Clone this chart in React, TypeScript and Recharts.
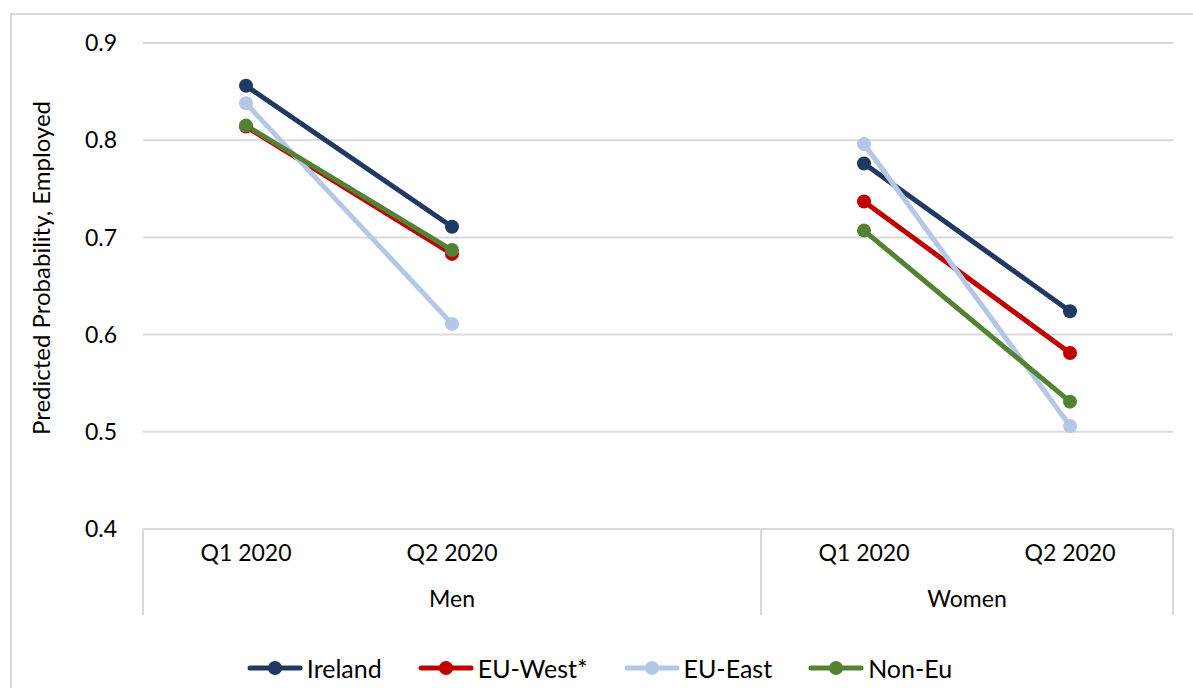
import React from "react";
import { LineChart, Line, XAxis, YAxis, CartesianGrid, Legend } from "recharts";

// categories along the x axis (the middle Men slot is an empty gap, as in the source chart)
const categories = ["men-q1", "men-q2", "men-gap", "women-q1", "women-q2"];
const quarterLabels = ["Q1 2020", "Q2 2020", "", "Q1 2020", "Q2 2020"];
const groupLabels = ["Men", "Men", "Men", "Women", "Women"];

const ireland = [0.856, 0.711, null, 0.776, 0.624];
const euWest = [0.814, 0.683, null, 0.737, 0.581];
const euEast = [0.838, 0.611, null, 0.796, 0.506];
const nonEu = [0.815, 0.687, null, 0.707, 0.531];

const yTicks = [0.4, 0.5, 0.6, 0.7, 0.8, 0.9];

const series = [
  { key: "ireland", name: "Ireland", color: "#203864", values: ireland },
  { key: "euWest", name: "EU-West*", color: "#C00000", values: euWest },
  { key: "euEast", name: "EU-East", color: "#B4C7E7", values: euEast },
  { key: "nonEu", name: "Non-Eu", color: "#548235", values: nonEu },
];

const data = categories.map((cat, i) => {
  const row: Record<string, any> = { cat };
  series.forEach((s) => {
    row[s.key] = s.values[i];
  });
  return row;
});

const W = 1193;
const H = 688;
const MARGIN = { top: 43, right: 20, bottom: 29, left: 83 };
const Y_AXIS_W = 60;
const PLOT_W = W - MARGIN.left - MARGIN.right - Y_AXIS_W;
const BAND = PLOT_W / categories.length;
const FONT = "Lato, 'Open Sans', sans-serif";
const GRID = "#d9d9d9";

const CategoryTick = (props: any) => {
  const { x, y, payload } = props;
  const i = payload.index;
  const group = groupLabels[i];
  const first = groupLabels.indexOf(group);
  const last = groupLabels.lastIndexOf(group);
  return (
    <g>
      <text x={x} y={y + 32} textAnchor="middle" fontSize={23} fill="#000" fontFamily={FONT}>
        {quarterLabels[i]}
      </text>
      {i === first && (
        <>
          <line x1={x - BAND / 2} x2={x - BAND / 2} y1={y} y2={y + 86} stroke={GRID} strokeWidth={2} />
          <text
            x={x + ((last - first) * BAND) / 2}
            y={y + 78}
            textAnchor="middle"
            fontSize={23}
            fill="#000"
            fontFamily={FONT}
          >
            {group}
          </text>
        </>
      )}
      {i === categories.length - 1 && (
        <line x1={x + BAND / 2} x2={x + BAND / 2} y1={y} y2={y + 86} stroke={GRID} strokeWidth={2} />
      )}
    </g>
  );
};

const renderLegend = () => (
  <div
    style={{
      display: "flex",
      justifyContent: "center",
      alignItems: "center",
      gap: 36,
      height: 40,
      fontFamily: FONT,
      fontSize: 25,
      color: "#000",
      paddingLeft: 6,
    }}
  >
    {series.map((s) => (
      <div key={s.key} style={{ display: "flex", alignItems: "center" }}>
        <svg width={56} height={16} style={{ marginRight: 4 }}>
          <line x1={3} x2={53} y1={8} y2={8} stroke={s.color} strokeWidth={5} strokeLinecap="round" />
          <circle cx={28} cy={8} r={7} fill={s.color} />
        </svg>
        <span>{s.name}</span>
      </div>
    ))}
  </div>
);

const YLabel = (props: any) => {
  const { viewBox } = props;
  const cx = 40;
  const cy = viewBox.y + viewBox.height / 2 - 18;
  return (
    <text
      x={cx}
      y={cy}
      transform={`rotate(-90, ${cx}, ${cy})`}
      textAnchor="middle"
      dominantBaseline="central"
      fontSize={24}
      fill="#000"
      fontFamily={FONT}
    >
      Predicted Probability, Employed
    </text>
  );
};

export default function App() {
  return (
    <div style={{ position: "fixed", left: 0, top: 0, width: W, height: H, overflow: "hidden", background: "#fff" }}>
      <div
        style={{
          position: "absolute",
          left: 10,
          top: 13,
          width: 1300,
          height: 800,
          border: `2px solid ${GRID}`,
        }}
      />
      <div style={{ position: "absolute", left: 0, top: 0 }}>
        <LineChart width={W} height={H} data={data} margin={MARGIN}>
          <CartesianGrid vertical={false} stroke={GRID} strokeWidth={2} />
          <XAxis
            dataKey="cat"
            scale="band"
            height={90}
            tickSize={0}
            tickMargin={0}
            tickLine={false}
            axisLine={{ stroke: GRID, strokeWidth: 2 }}
            tick={<CategoryTick />}
            interval={0}
          />
          <YAxis
            width={Y_AXIS_W}
            domain={[0.4, 0.9]}
            ticks={yTicks}
            tickFormatter={(v: number) => v.toFixed(1)}
            axisLine={false}
            tickLine={false}
            tickMargin={20}
            tick={{ fontSize: 23, fill: "#000", fontFamily: FONT }}
            label={<YLabel />}
          />
          <Legend
            verticalAlign="bottom"
            content={renderLegend}
            wrapperStyle={{ height: 40, bottom: 0, left: 0, width: W }}
          />
          {series.map((s) => (
            <Line
              key={s.key}
              dataKey={s.key}
              name={s.name}
              stroke={s.color}
              strokeWidth={5}
              dot={{ r: 7, fill: s.color, stroke: s.color, strokeWidth: 0 }}
              activeDot={false}
              connectNulls={false}
              isAnimationActive={false}
              type="linear"
            />
          ))}
        </LineChart>
      </div>
    </div>
  );
}
